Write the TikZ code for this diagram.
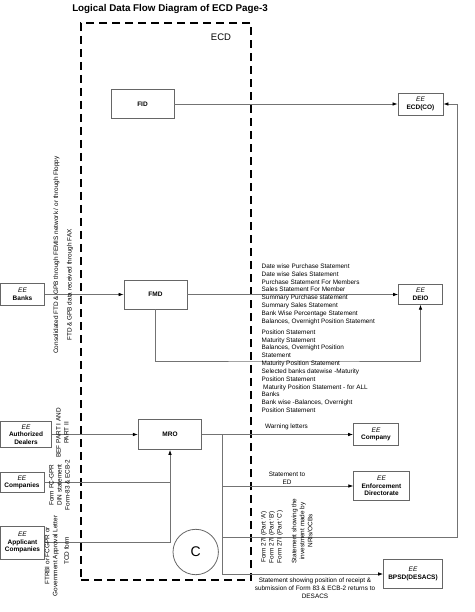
\documentclass[tikz,border=0pt]{standalone}
\usepackage{fontspec}
\setmainfont{Liberation Sans}
\usetikzlibrary{arrows.meta,calc}
\definecolor{boxgray}{rgb}{0.40,0.40,0.40}
\definecolor{linegray}{rgb}{0.45,0.45,0.45}
\newcommand{\eebox}[1]{{\mdseries\itshape EE}\\#1}
\begin{document}
\begin{tikzpicture}[x=1pt,y=-1pt,
  box/.style={draw=boxgray, line width=0.8pt, inner sep=0pt, align=center,
    font=\fontsize{6.5}{7.6}\selectfont\bfseries, fill=white},
  flow/.style={draw=linegray, line width=0.7pt, -{Latex[length=5pt,width=3.6pt,color=black]}},
  plain/.style={draw=linegray, line width=0.7pt},
  lbl/.style={font=\fontsize{6.4}{7.9}\selectfont, inner sep=0pt, align=left},
  rlbl/.style={font=\fontsize{6.4}{8}\selectfont, inner sep=0pt, align=center, rotate=90},
  ecdbox/.style={draw=black, line width=1.2pt, dash pattern=on 8pt off 5pt, inner sep=0pt},
]
\useasboundingbox (0,0) rectangle (474,612);

% title and ECD boundary
\node[font=\fontsize{9.8}{11}\selectfont\bfseries] (title) at (170,9) {Logical Data Flow Diagram of ECD Page-3};
\node[ecdbox, minimum width=170pt, minimum height=557pt] (ecd) at (166,301.5) {};
\node[font=\fontsize{9.5}{11}\selectfont] (ecdlbl) at (221,37) {ECD};

% boxes
\node[box, minimum width=63pt, minimum height=29pt] (fid) at (142.5,104) {FID};
\node[box, minimum width=45pt, minimum height=22pt] (ecdco) at (420.5,104) {\eebox{ECD(CO)}};
\node[box, minimum width=44pt, minimum height=22pt] (banks) at (22.5,294.5) {\eebox{Banks}};
\node[box, minimum width=63pt, minimum height=29pt] (fmd) at (155.5,294.5) {FMD};
\node[box, minimum width=44pt, minimum height=19.5pt] (deio) at (420.5,294.5) {\eebox{DEIO}};
\node[box, minimum width=51.5pt, minimum height=26pt] (ad) at (26,434.5) {\eebox{Authorized\\Dealers}};
\node[box, minimum width=63.5pt, minimum height=30pt] (mro) at (170,434.5) {MRO};
\node[box, minimum width=44pt, minimum height=20pt] (comps) at (22,482.5) {\eebox{Companies}};
\node[box, minimum width=44.5pt, minimum height=33pt] (appco) at (22.5,542.5) {\eebox{Applicant\\Companies}};
\node[box, minimum width=45pt, minimum height=22.5pt] (company) at (376,434.5) {\eebox{Company}};
\node[box, minimum width=55.5pt, minimum height=29pt] (ed) at (381.5,486) {\eebox{Enforcement\\Directorate}};
\node[box, minimum width=59pt, minimum height=29.5pt] (bpsd) at (413,574) {\eebox{BPSD(DESACS)}};
\node[draw=boxgray, line width=0.8pt, circle, minimum size=45.4pt, inner sep=0pt,
  font=\fontsize{14}{14}\selectfont] (c) at (195.7,552) {C};

% connectors
\draw[flow] (fid) -- (ecdco);
\draw[flow] (banks) -- (fmd);
\draw[flow] (fmd) -- (deio);
\coordinate (fdlow) at (300,361);
\draw[flow] (fmd.south) |- (fdlow) -| (deio.south);
\draw[flow] (ad) -- (mro);
\draw[plain] (comps.east) -- (comps.east -| mro.south);
\draw[flow] (appco.east) -| (mro.south);
\draw[flow] (mro) -- (company);
\coordinate (mj) at (222,434.5);
\coordinate (mbot) at (222,574);
\coordinate (mj3) at (222,537);
\coordinate (rc) at (457,537);
\draw[plain] (mj) -- (mbot);
\draw[flow] (mj |- ed.west) -- (ed.west);
\draw[flow] (mj3) -- (rc) |- (ecdco.east);
\draw[flow] (mbot) -- (bpsd.west);

% FMD output labels
\node[lbl, anchor=west] (la) at (261.5,294.2) {Date wise Purchase Statement\\Date wise Sales Statement\\Purchase Statement For Members\\Sales Statement For Member\\Summary Purchase statement\\Summary Sales Statement\\Bank Wise Percentage Statement\\Balances, Overnight Position Statement};
\node[lbl, anchor=west] (lb) at (261.5,343.7) {Position Statement\\Maturity Statement\\Balances, Overnight Position\\Statement};
\node[lbl, anchor=west] (lc) at (261.5,386.8) {Maturity Position Statement\\Selected banks datewise -Maturity\\Position Statement\\\hspace{1.5pt}Maturity Position Statement - for ALL\\Banks\\Bank wise -Balances, Overnight\\Position Statement};

% MRO output labels
\node[lbl, align=center] (lwarn) at (286.5,427) {Warning letters};
\node[lbl, align=center] (led) at (287,478) {Statement to\\ED};
\node[lbl, align=center] (lbp) at (315,588.5) {Statement showing position of receipt \&\\submission of Form 83 \& ECB-2 returns to\\DESACS};
\node[rlbl] (lf27) at (272,537) {Form 27I (Part `A')\\Form 27I (Part `B')\\Form 27I (Part `C')};
\node[rlbl] (lnri) at (302,531) {Statement showing the\\investment made by\\NRIs/OCBs};

% input labels
\node[rlbl] (lbk1) at (56.5,255) {Consolidated FTD \& GPB through FEMIS network / or through Floppy};
\node[rlbl] (lbk2) at (70,285) {FTD \& GPB data received through FAX};
\node[rlbl] (lbef) at (62.5,433) {BEF PART I AND\\PART II};
\node[rlbl] (lfc) at (59.3,485) {Form FC-GPR\\DIN statement\\Form-83 \& ECB-2};
\node[rlbl] (lft) at (51.8,556) {FTRBI or FCGPR or\\Government Approval Letter};
\node[rlbl] (ltcd) at (66.7,551) {TCD form};
\end{tikzpicture}
\end{document}
